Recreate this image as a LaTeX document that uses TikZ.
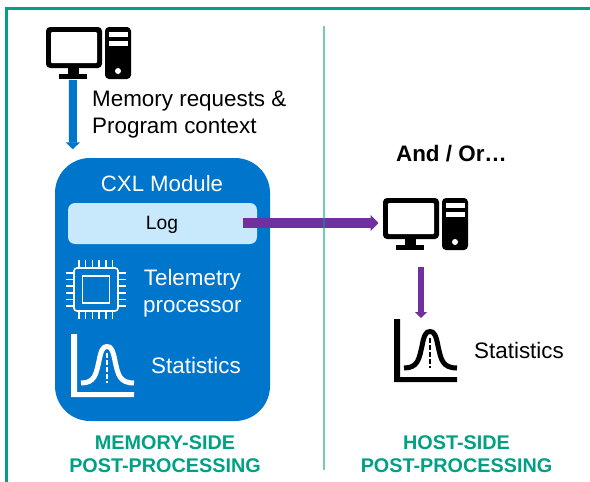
\documentclass[tikz,border=0pt]{standalone}
\usepackage{fontspec}
\setmainfont{Liberation Sans}
\usetikzlibrary{arrows.meta,calc}
\definecolor{teal1}{HTML}{00A183}
\definecolor{blue1}{HTML}{0075CC}
\definecolor{logc}{HTML}{C8E8FC}
\definecolor{purp}{HTML}{7030A0}
\tikzset{
 x=1pt,y=-1pt,
 lbl/.style={font=\fontsize{22.4}{27}\selectfont,align=left,inner sep=0pt,anchor=west},
 wlbl/.style={lbl,text=white},
 head/.style={font=\fontsize{19.8}{23}\selectfont\bfseries,align=center,text=teal1,inner sep=0pt},
 iconbox/.style={inner sep=0pt,outer sep=0pt,minimum width=85pt,minimum height=52pt},
 statbox/.style={inner sep=0pt,outer sep=0pt,minimum width=63pt,minimum height=63pt},
 arrowb/.style={draw=blue1,line width=8pt,-{Triangle[width=14pt,length=7pt]}},
 arrowp/.style={draw=purp,line width=9.5pt,-{Triangle[width=16pt,length=8pt]}},
 arrowq/.style={draw=purp,line width=6.5pt,-{Triangle[width=12pt,length=6pt]}},
}
% computer icon, origin at top-left of monitor
\newcommand{\pcicon}[2]{%
 \begin{scope}[shift={(#1,#2)}]
  \fill[black,rounded corners=4pt] (0,0) rectangle (56,41);
  \fill[white,rounded corners=1pt] (5,5) rectangle (51,36);
  \fill[black] (22,41) rectangle (33,47);
  \fill[black] (13,47) rectangle (41,52);
  \fill[black,rounded corners=4pt] (59,0) rectangle (85,52);
  \fill[white] (63,5) rectangle (82,10);
  \fill[white] (63,14) rectangle (82,19);
  \fill[white] (72,44) circle (3);
 \end{scope}}
% statistics icon, origin at top-left of axes
\newcommand{\staticon}[3]{%
 \begin{scope}[shift={(#1,#2)},line cap=butt]
  \fill[#3] (0,0) -- (6,0) -- (6,58) -- (63,58) -- (63,63) -- (0,63) -- cycle;
  \draw[#3,line width=5pt] (10,49) .. controls (24,49) and (25,40) .. (28,27)
     .. controls (30,16) and (32,12.5) .. (36,12.5)
     .. controls (40,12.5) and (42,16) .. (44,27)
     .. controls (47,40) and (48,49) .. (63,49);
  \draw[#3,line width=1.8pt,dash pattern=on 4.5pt off 2.6pt] (36,19) -- (36,49);
 \end{scope}}
\begin{document}
\begin{tikzpicture}
\useasboundingbox (0,0) rectangle (590,482);
% frame
\draw[teal1,line width=2.6pt] (6.2,482) -- (6.2,8.7) -- (590,8.7);
% module
\node[fill=blue1,rounded corners=35pt,inner sep=0pt,minimum width=215pt,minimum height=263pt] (module) at (162.5,289.5) {};
\node[fill=logc,rounded corners=7pt,inner sep=0pt,minimum width=189pt,minimum height=41pt] (log) at (162.5,223.5) {};
\node[font=\fontsize{19.3}{23}\selectfont,inner sep=0pt] (logt) at (162,225) {Log};
% icons
\node[iconbox] (pc1) at (88.5,53) {};
\pcicon{46}{27}
\node[iconbox] (pc2) at (425.5,223) {};
\pcicon{383}{198}
\node[statbox] (stat1) at (102.5,365.5) {};
\staticon{71}{334}{white}
\node[statbox] (stat2) at (425.5,350.5) {};
\staticon{394}{319}{black}
% chip
\node[inner sep=0pt,minimum width=44pt,minimum height=43pt,draw=white,line width=1.6pt,rounded corners=3pt] (chip) at (96,289.5) {};
\node[inner sep=0pt,minimum width=27pt,minimum height=27pt,draw=white,line width=1.6pt] (core) at (96,289.5) {};
\foreach \i in {79,85.7,92.4,99.1,105.8,112.5}{
 \draw[white,line width=1.5pt] (\i,260) -- (\i,268);
 \draw[white,line width=1.5pt] (\i,311) -- (\i,319);}
\foreach \i in {273,279.6,286.2,292.8,299.4,306}{
 \draw[white,line width=1.5pt] (66,\i) -- (74,\i);
 \draw[white,line width=1.5pt] (118,\i) -- (126,\i);}
% connectors
\coordinate (a1s) at ($(pc1.south west)+(27,1)$);
\coordinate (a1e) at ($(module.north west)+(18,-8.5)$);
\draw[arrowb] (a1s) -- (a1e);
\draw[arrowp] ($(log.east)+(-14,-0.5)$) -- ($(pc2.west)+(-4.5,0)$);
\draw[arrowq] ($(pc2.south)+(-4.5,17.5)$) -- ($(stat2.north)+(-4.5,-1)$);
% divider
\coordinate (divtop) at (324,26);
\coordinate (divbot) at (324,470);
\draw[teal1,opacity=.55,line width=1.4pt] (divtop) -- (divbot);
% labels
\node[lbl] (l1) at (92,114.5) {Memory requests \&\\Program context};
\node[font=\fontsize{22.4}{27}\selectfont\bfseries,inner sep=0pt] (andor) at (451.5,154) {And / Or…};
\node[font=\fontsize{22.2}{27}\selectfont,text=white,inner sep=0pt] (cxl) at (162,184) {CXL Module};
\node[wlbl,align=center] (tp) at (143,293) {Telemetry\\processor};
\node[wlbl] (st1) at (151,365) {Statistics};
\node[lbl] (st2) at (474,350) {Statistics};
\node[head] (h1) at (165,454.5) {MEMORY-SIDE\\POST-PROCESSING};
\node[head] (h2) at (456.5,454.5) {HOST-SIDE\\POST-PROCESSING};
\end{tikzpicture}
\end{document}
